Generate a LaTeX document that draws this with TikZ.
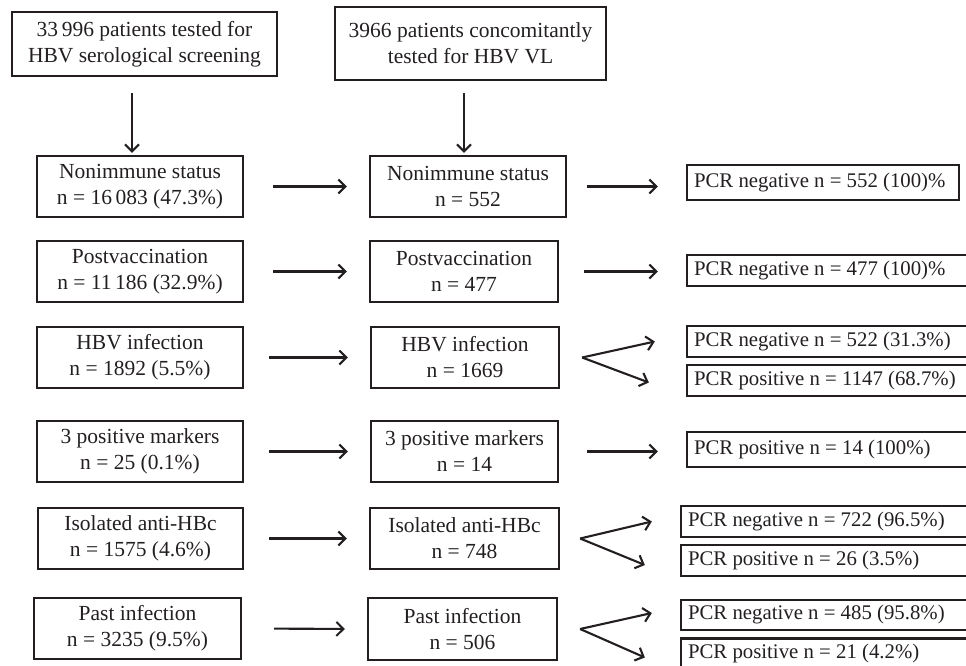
\documentclass[tikz,border=0pt]{standalone}
\usepackage{fontspec}
\setmainfont{Liberation Serif}
\usetikzlibrary{arrows.meta,calc}
\definecolor{ink}{RGB}{35,31,32}
\begin{document}
\begin{tikzpicture}[x=1pt,y=-1pt,
  box/.style={draw=ink, line width=2.3pt, text=ink, align=center, inner sep=0pt, font=\fontsize{21.5}{26}\selectfont},
  colA/.style={box, minimum width=206pt, minimum height=61pt},
  colB/.style={box, minimum width=189pt, minimum height=61pt},
  pcr/.style={draw=ink, line width=2.3pt, text=ink, inner xsep=7pt, inner ysep=0pt, font=\fontsize{20.8}{26}\selectfont, minimum height=31pt},
  arr/.style={draw=ink, line width=2.1pt, -{Straight Barb[length=7pt,width=14pt]}},
  hA/.style={arr, shorten <=29pt, shorten >=22pt},
  hB/.style={arr, shorten <=22pt, shorten >=28pt}]
\useasboundingbox (0,0) rectangle (966,665);
\clip (0,0) rectangle (966,665);

% top boxes
\node[box, minimum width=265pt, minimum height=64pt] (t1) at (144.5,44) {33\,996 patients tested for\\HBV serological screening};
\node[box, minimum width=271pt, minimum height=73pt] (t2) at (470.5,43.5) {3966 patients concomitantly\\tested for HBV VL};

% column 1
\node[colA] (n1) at (140,186.5) {Nonimmune status\\n = 16\,083 (47.3\%)};
\node[colA] (p1) at (140,271.5) {Postvaccination\\n = 11\,186 (32.9\%)};
\node[colA] (h1) at (140,357.5) {HBV infection\\n = 1892 (5.5\%)};
\node[colA] (m1) at (140,451.5) {3 positive markers\\n = 25 (0.1\%)};
\node[colA, minimum width=205pt] (i1) at (140.5,538.5) {Isolated anti-HBc\\n = 1575 (4.6\%)};
\node[colA, minimum width=207pt] (a1) at (137.5,628.5) {Past infection\\n = 3235 (9.5\%)};

% column 2
\node[colB, minimum width=196pt] (n2) at (468,186.5) {Nonimmune status\\n = 552};
\node[colB, minimum width=188pt] (p2) at (464,271.5) {Postvaccination\\n = 477};
\node[colB, minimum width=188pt] (h2) at (465,357.5) {HBV infection\\n = 1669};
\node[colB, minimum width=187pt] (m2) at (464.5,451.5) {3 positive markers\\n = 14};
\node[colB] (i2) at (464.5,538.5) {Isolated anti-HBc\\n = 748};
\node[colB, minimum height=62pt] (a2) at (462.5,629) {Past infection\\n = 506};

% column 3
\node[pcr, minimum height=35pt] (r1) at (823,182.5) {\makebox[258pt][l]{PCR negative n = 552 (100)\%}};
\node[pcr] (r2) at (831,270.5) {\makebox[274pt][l]{PCR negative n = 477 (100)\%}};
\node[pcr] (r3) at (831,341.5) {\makebox[274pt][l]{PCR negative n = 522 (31.3\%)}};
\node[pcr] (r4) at (831,380.5) {\makebox[274pt][l]{PCR positive n = 1147 (68.7\%)}};
\node[pcr, minimum height=35pt] (r5) at (831,449.5) {\makebox[274pt][l]{PCR positive n = 14 (100\%)}};
\node[pcr] (r6) at (827,521.5) {\makebox[278pt][l]{PCR negative n = 722 (96.5\%)}};
\node[pcr] (r7) at (827,560.5) {\makebox[278pt][l]{PCR positive n = 26 (3.5\%)}};
\node[pcr, minimum height=30pt] (r8) at (827,615) {\makebox[278pt][l]{PCR negative n = 485 (95.8\%)}};
\node[pcr, minimum height=30pt] (r9) at (827,653.5) {\makebox[278pt][l]{PCR positive n = 21 (4.2\%)}};

% vertical arrows
\draw[arr, shorten >=2pt] ([xshift=-12.5pt,yshift=-16pt]t1.south) -- ([xshift=-8pt]n1.north);
\draw[arr, shorten >=2pt] ([xshift=-6.5pt,yshift=-12pt]t2.south) -- ([xshift=-4pt]n2.north);

% column 1 -> column 2
\draw[hA] (n1.east) -- (n2.west);
\draw[hA] (p1.east) -- (p2.west);
\draw[hA, shorten <=25pt] (h1.east) -- (h2.west);
\draw[hA, shorten <=25pt] (m1.east) -- (m2.west);
\draw[hA, shorten <=25pt] (i1.east) -- (i2.west);
\draw[hA, shorten <=32pt] (a1.east) -- (a2.west);

% column 2 -> column 3
\draw[hB, shorten <=20pt] (n2.east) -- (n2.east -| r1.west);
\draw[hB, shorten <=25pt] (p2.east) -- (p2.east -| r2.west);
\draw[hB, shorten <=28pt] (m2.east) -- (m2.east -| r5.west);

\coordinate (hf) at ([xshift=22pt]h2.east);
\draw[arr] (hf) -- ([xshift=-31pt]r3.west);
\draw[arr] (hf) -- ([xshift=-37pt,yshift=-2pt]r4.west);

\coordinate (if) at ([xshift=20pt]i2.east);
\draw[arr] (if) -- ([xshift=-28pt]r6.west);
\draw[arr] (if) -- ([xshift=-35pt,yshift=-4.5pt]r7.west);

\coordinate (af) at ([xshift=22pt]a2.east);
\draw[arr] (af) -- ([xshift=-28pt,yshift=2pt]r8.west);
\draw[arr] (af) -- ([xshift=-35pt,yshift=-4pt]r9.west);
\end{tikzpicture}
\end{document}
